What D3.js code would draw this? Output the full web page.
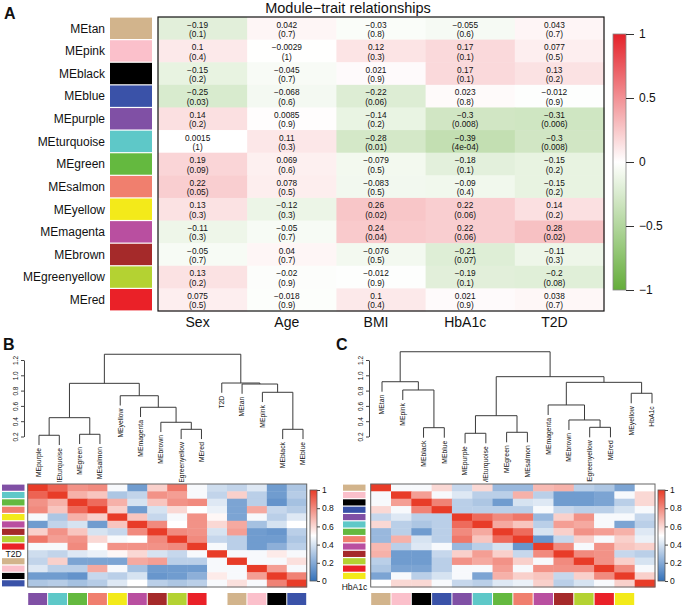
<!DOCTYPE html>
<html>
<head>
<meta charset="utf-8">
<script src="https://d3js.org/d3.v7.min.js"></script>
<style>
html,body{margin:0;padding:0;background:#fff;}
svg{display:block;}
text{font-family:"Liberation Sans",Arial,Helvetica,sans-serif;fill:#111;}
</style>
</head>
<body>
<svg id="chart" width="683" height="607"></svg>
<script>
// ---------------- Panel A data ----------------
const modulesA = ["MEtan","MEpink","MEblack","MEblue","MEpurple","MEturquoise","MEgreen","MEsalmon","MEyellow","MEmagenta","MEbrown","MEgreenyellow","MEred"];
const traits = ["Sex","Age","BMI","HbA1c","T2D"];
const corSex   = [-0.19, 0.1, -0.15, -0.25, 0.14, 0.0015, 0.19, 0.22, 0.13, -0.11, -0.05, 0.13, 0.075];
const corAge   = [0.042, -0.0029, -0.045, -0.068, 0.0085, 0.11, 0.069, 0.078, -0.12, -0.05, 0.04, -0.02, -0.018];
const corBMI   = [-0.03, 0.12, 0.021, -0.22, -0.14, -0.28, -0.079, -0.083, 0.26, 0.24, -0.076, -0.012, 0.1];
const corHbA1c = [-0.055, 0.17, 0.17, 0.023, -0.3, -0.39, -0.18, -0.09, 0.22, 0.22, -0.21, -0.19, 0.021];
const corT2D   = [0.043, 0.077, 0.13, -0.012, -0.31, -0.3, -0.15, -0.15, 0.14, 0.28, -0.11, -0.2, 0.038];
const pSex   = [0.1, 0.4, 0.2, 0.03, 0.2, 1, 0.09, 0.05, 0.3, 0.3, 0.7, 0.2, 0.5];
const pAge   = [0.7, 1, 0.7, 0.6, 0.9, 0.3, 0.6, 0.5, 0.3, 0.7, 0.7, 0.9, 0.9];
const pBMI   = [0.8, 0.3, 0.9, 0.06, 0.2, 0.01, 0.5, 0.5, 0.02, 0.04, 0.5, 0.9, 0.4];
const pHbA1c = [0.6, 0.1, 0.1, 0.8, 0.008, 0.0004, 0.1, 0.4, 0.06, 0.06, 0.07, 0.1, 0.9];
const pT2D   = [0.7, 0.5, 0.2, 0.9, 0.006, 0.008, 0.2, 0.2, 0.2, 0.02, 0.3, 0.08, 0.7];
const legendTicksA = [-1, -0.5, 0, 0.5, 1];

const moduleColors = {
  MEtan:"#d2b48c", MEpink:"#fbc0cb", MEblack:"#000000", MEblue:"#3a52a8",
  MEpurple:"#8050a5", MEturquoise:"#5ec8c8", MEgreen:"#64b93f", MEsalmon:"#f07f6e",
  MEyellow:"#f3ea1a", MEmagenta:"#b94fa0", MEbrown:"#a52a2a", MEgreenyellow:"#b4d232",
  MEred:"#ea2128"
};

// ---------------- Panel B data ----------------
const leavesB = ["MEpurple","MEturquoise","MEgreen","MEsalmon","MEyellow","MEmagenta","MEbrown","MEgreenyellow","MEred","T2D","MEtan","MEpink","MEblack","MEblue"];
const mergesB = [
  ["MEpurple","MEturquoise",0.216],
  ["MEgreen","MEsalmon",0.229],
  ["n1","n2",0.446],
  ["MEgreenyellow","MEred",0.294],
  ["MEbrown","n4",0.386],
  ["MEmagenta","n5",0.582],
  ["MEyellow","n6",0.733],
  ["n3","n7",0.895],
  ["MEblack","MEblue",0.294],
  ["MEpink","n9",0.778],
  ["MEtan","n10",0.886],
  ["T2D","n11",0.899],
  ["n8","n12",1.275]
];
const adjB = [
  [1.00,0.90,0.78,0.80,0.48,0.15,0.62,0.85,0.48,0.38,0.35,0.42,0.15,0.30],
  [0.90,1.00,0.70,0.65,0.30,0.35,0.78,0.75,0.48,0.35,0.62,0.33,0.15,0.32],
  [0.78,0.70,1.00,0.88,0.70,0.40,0.65,0.78,0.80,0.42,0.18,0.33,0.12,0.28],
  [0.80,0.65,0.88,1.00,0.62,0.15,0.40,0.60,0.50,0.45,0.18,0.72,0.36,0.32],
  [0.48,0.30,0.70,0.62,1.00,0.65,0.36,0.48,0.78,0.52,0.18,0.48,0.33,0.42],
  [0.15,0.35,0.40,0.15,0.65,1.00,0.80,0.50,0.78,0.60,0.72,0.28,0.40,0.50],
  [0.62,0.78,0.65,0.40,0.36,0.80,1.00,0.80,0.78,0.40,0.75,0.15,0.13,0.33],
  [0.85,0.75,0.78,0.60,0.48,0.50,0.80,1.00,0.80,0.36,0.33,0.15,0.15,0.30],
  [0.48,0.48,0.80,0.50,0.78,0.78,0.78,0.80,1.00,0.48,0.33,0.15,0.22,0.33],
  [0.38,0.35,0.42,0.45,0.52,0.60,0.40,0.36,0.48,1.00,0.48,0.48,0.55,0.48],
  [0.35,0.62,0.18,0.18,0.18,0.72,0.75,0.33,0.33,0.48,1.00,0.48,0.48,0.58],
  [0.42,0.33,0.33,0.72,0.48,0.28,0.15,0.15,0.15,0.48,0.48,1.00,0.75,0.48],
  [0.15,0.15,0.12,0.36,0.33,0.40,0.13,0.15,0.22,0.55,0.48,0.75,1.00,0.82],
  [0.30,0.32,0.28,0.32,0.42,0.50,0.33,0.30,0.33,0.48,0.58,0.48,0.82,1.00]
];

// ---------------- Panel C data ----------------
const leavesC = ["MEtan","MEpink","MEblack","MEblue","MEpurple","MEturquoise","MEgreen","MEsalmon","MEmagenta","MEbrown","MEgreenyellow","MEred","MEyellow","HbA1c"];
const mergesC = [
  ["MEblack","MEblue",0.315],
  ["MEpink","n1",0.808],
  ["MEtan","n2",0.916],
  ["MEpurple","MEturquoise",0.242],
  ["MEgreen","MEsalmon",0.255],
  ["n4","n5",0.472],
  ["MEgreenyellow","MEred",0.32],
  ["MEbrown","n7",0.416],
  ["MEmagenta","n8",0.612],
  ["MEyellow","HbA1c",0.765],
  ["n9","n10",0.908],
  ["n6","n11",0.982],
  ["n3","n12",1.308]
];
const adjC = [
  [1.00,0.48,0.48,0.60,0.36,0.60,0.25,0.25,0.68,0.70,0.33,0.30,0.18,0.50],
  [0.48,1.00,0.75,0.48,0.42,0.33,0.33,0.70,0.33,0.15,0.15,0.18,0.48,0.60],
  [0.48,0.75,1.00,0.82,0.33,0.30,0.15,0.40,0.42,0.15,0.15,0.18,0.33,0.60],
  [0.60,0.48,0.82,1.00,0.33,0.33,0.33,0.33,0.48,0.36,0.33,0.33,0.40,0.48],
  [0.36,0.42,0.33,0.33,1.00,0.88,0.80,0.85,0.25,0.62,0.78,0.48,0.48,0.36],
  [0.60,0.33,0.30,0.33,0.88,1.00,0.72,0.65,0.33,0.75,0.72,0.48,0.18,0.33],
  [0.25,0.33,0.15,0.33,0.80,0.72,1.00,0.88,0.40,0.62,0.78,0.75,0.70,0.42],
  [0.25,0.70,0.40,0.33,0.85,0.65,0.88,1.00,0.13,0.36,0.62,0.48,0.62,0.45],
  [0.68,0.33,0.42,0.48,0.25,0.33,0.40,0.13,1.00,0.80,0.48,0.78,0.65,0.62],
  [0.70,0.15,0.15,0.36,0.62,0.75,0.62,0.36,0.80,1.00,0.80,0.78,0.36,0.33],
  [0.33,0.15,0.15,0.33,0.78,0.72,0.78,0.62,0.48,0.80,1.00,0.78,0.62,0.40],
  [0.30,0.18,0.18,0.33,0.48,0.48,0.75,0.48,0.78,0.78,0.78,1.00,0.80,0.48],
  [0.18,0.48,0.33,0.40,0.48,0.18,0.70,0.62,0.65,0.36,0.62,0.80,1.00,0.62],
  [0.50,0.60,0.60,0.48,0.36,0.33,0.42,0.45,0.62,0.33,0.40,0.48,0.62,1.00]
];
const dendroTicks = [0.2, 0.4, 0.6, 0.8, 1.0, 1.2];
const adjTicks = [0, 0.2, 0.4, 0.6, 0.8, 1];

// =====================================================
const svg = d3.select("#chart");
const minus = s => s.replace("-", "\u2212");
const fmtCor = v => minus(String(v));
const fmtP = p => {
  if (p < 0.001) {
    const e = Math.floor(Math.log10(p));
    const m = Math.round(p / Math.pow(10, e));
    return "(" + m + "e-" + String(-e).padStart(2, "0") + ")";
  }
  return "(" + String(p) + ")";
};

// ---------------- Panel A ----------------
const corByTrait = {Sex:corSex, Age:corAge, BMI:corBMI, HbA1c:corHbA1c, T2D:corT2D};
const pByTrait = {Sex:pSex, Age:pAge, BMI:pBMI, HbA1c:pHbA1c, T2D:pT2D};
const boxA = {x0:158, x1:604, y0:17, y1:311};
const xA = d3.scaleBand().domain(traits).range([boxA.x0, boxA.x1]);
const yA = d3.scaleBand().domain(modulesA).range([boxA.y0, boxA.y1]);
const colA = d3.scaleLinear().domain([-1, 0, 1]).range(["#64ad3a", "#ffffff", "#e4222a"]);

svg.append("text").attr("x", 4).attr("y", 19).style("font-size", "16px").style("font-weight", "bold").text("A");
svg.append("text").attr("x", 348).attr("y", 13).attr("text-anchor", "middle").style("font-size", "14.5px").text("Module\u2212trait relationships");

const gA = svg.append("g");
const cellsA = [];
modulesA.forEach((m, i) => traits.forEach(t => cellsA.push({m, t, r: corByTrait[t][i], p: pByTrait[t][i]})));
gA.selectAll("rect.cell").data(cellsA).join("rect").attr("class", "cell")
  .attr("x", d => xA(d.t)).attr("y", d => yA(d.m))
  .attr("width", xA.bandwidth() + 0.5).attr("height", yA.bandwidth() + 0.5)
  .attr("fill", d => colA(d.r));
const tA = gA.selectAll("g.ct").data(cellsA).join("g").attr("class", "ct");
tA.append("text").attr("x", d => xA(d.t) + xA.bandwidth() / 2 - 5).attr("y", d => yA(d.m) + yA.bandwidth() / 2 - 0.8)
  .attr("text-anchor", "middle").style("font-size", "8.3px").text(d => fmtCor(d.r));
tA.append("text").attr("x", d => xA(d.t) + xA.bandwidth() / 2 - 5).attr("y", d => yA(d.m) + yA.bandwidth() / 2 + 8.6)
  .attr("text-anchor", "middle").style("font-size", "8.3px").text(d => fmtP(d.p));
gA.append("rect").attr("x", boxA.x0).attr("y", boxA.y0).attr("width", boxA.x1 - boxA.x0).attr("height", boxA.y1 - boxA.y0)
  .attr("fill", "none").attr("stroke", "#111").attr("stroke-width", 1.2);
// module swatches + labels
gA.selectAll("rect.sw").data(modulesA).join("rect").attr("class", "sw")
  .attr("x", 110).attr("y", d => yA(d) + 0.6).attr("width", 42).attr("height", yA.bandwidth() - 1.2)
  .attr("fill", d => moduleColors[d]);
gA.selectAll("text.rl").data(modulesA).join("text").attr("class", "rl")
  .attr("x", 105).attr("y", d => yA(d) + yA.bandwidth() / 2).attr("dy", "0.36em")
  .attr("text-anchor", "end").style("font-size", "12px").text(d => d);
gA.selectAll("text.cl").data(traits).join("text").attr("class", "cl")
  .attr("x", d => xA(d) + xA.bandwidth() / 2 - 5).attr("y", 327)
  .attr("text-anchor", "middle").style("font-size", "14px").text(d => d);
// legend A
const defs = svg.append("defs");
const gradA = defs.append("linearGradient").attr("id", "gradA").attr("x1", 0).attr("y1", 1).attr("x2", 0).attr("y2", 0);
d3.range(0, 1.0001, 0.05).forEach(f => gradA.append("stop").attr("offset", f).attr("stop-color", colA(-1 + 2 * f)));
const yLegA = d3.scaleLinear().domain([-1, 1]).range([290, 34]);
svg.append("rect").attr("x", 613).attr("y", 34).attr("width", 13).attr("height", 256)
  .attr("fill", "url(#gradA)").attr("stroke", "#888").attr("stroke-width", 0.8);
const axLegA = svg.append("g").attr("transform", "translate(626,0)")
  .call(d3.axisRight(yLegA).tickValues(legendTicksA).tickSize(8).tickPadding(5).tickFormat(d => minus(String(d))));
axLegA.select(".domain").remove();
axLegA.selectAll("line").attr("stroke", "#333");
axLegA.selectAll("text").style("font-size", "12px").style("font-family", "'Liberation Sans',Arial,sans-serif").attr("fill", "#111");

// ---------------- shared heatmap colours ----------------
const colAdj = d3.scaleLinear().domain([0, 0.5, 1]).range(["#3371ba", "#ffffff", "#e83c28"]);
const gradAdj = defs.append("linearGradient").attr("id", "gradAdj").attr("x1", 0).attr("y1", 1).attr("x2", 0).attr("y2", 0);
d3.range(0, 1.0001, 0.05).forEach(f => gradAdj.append("stop").attr("offset", f).attr("stop-color", colAdj(f)));
defs.append("clipPath").attr("id", "clipDendro").append("rect").attr("x", 0).attr("y", 330).attr("width", 683).attr("height", 152);

function panel(cfg) {
  const {leaves, merges, adj, hx0, hx1, lx0, lx1, axisX, barX, panelLabel, labelX, traitName} = cfg;
  const g = svg.append("g");
  g.append("text").attr("x", labelX).attr("y", 350).style("font-size", "16px").style("font-weight", "bold").text(panelLabel);
  // dendrogram
  const yD = d3.scaleLinear().domain([0.2, 1.2]).range([436.5, 360]);
  const xD = d3.scalePoint().domain(leaves).range([lx0, lx1]);
  const maxH = d3.max(merges, d => d[2]);
  const hang = 0.1 * maxH;
  const node = {};
  leaves.forEach(l => node[l] = {x: xD(l), h: null, leaf: true, name: l});
  const segs = [];
  const leafEnds = [];
  merges.forEach((mg, i) => {
    const [a, b, h] = mg;
    [node[a], node[b]].forEach(n => {
      const bottom = n.leaf ? h - hang : n.h;
      if (n.leaf) leafEnds.push({name: n.name, x: n.x, h: bottom});
      segs.push({x1: n.x, x2: n.x, h1: h, h2: bottom});
    });
    segs.push({x1: node[a].x, x2: node[b].x, h1: h, h2: h});
    node["n" + (i + 1)] = {x: (node[a].x + node[b].x) / 2, h: h, leaf: false};
  });
  const gD = g.append("g");
  gD.selectAll("line").data(segs).join("line")
    .attr("x1", d => d.x1).attr("x2", d => d.x2).attr("y1", d => yD(d.h1)).attr("y2", d => yD(d.h2))
    .attr("stroke", "#3a3a3a").attr("stroke-width", 1);
  g.append("g").attr("clip-path", "url(#clipDendro)").selectAll("text").data(leafEnds).join("text")
    .attr("transform", d => `translate(${d.x},${yD(d.h) + 3}) rotate(-90)`)
    .attr("dy", "0.35em").attr("text-anchor", "end").style("font-size", "6.8px").text(d => d.name);
  const ax = g.append("g").attr("transform", `translate(${axisX},0)`)
    .call(d3.axisLeft(yD).tickValues(dendroTicks).tickSize(3).tickSizeOuter(0).tickFormat(d3.format(".1f")));
  ax.select(".domain").attr("stroke", "#444");
  ax.selectAll("line").attr("stroke", "#444");
  ax.selectAll("text").attr("x", null).attr("dy", null)
    .attr("text-anchor", "middle")
    .attr("transform", "translate(-6,0) rotate(-90)")
    .style("font-size", "6.5px").style("font-family", "'Liberation Sans',Arial,sans-serif").attr("fill", "#333");
  // heatmap
  const xH = d3.scaleBand().domain(leaves).range([hx0, hx1]);
  const yH = d3.scaleBand().domain(leaves).range([484, 587]);
  const cells = [];
  leaves.forEach((r, i) => leaves.forEach((c, j) => cells.push({r, c, v: adj[i][j]})));
  g.selectAll("rect.hc").data(cells).join("rect").attr("class", "hc")
    .attr("x", d => xH(d.c)).attr("y", d => yH(d.r))
    .attr("width", xH.bandwidth() + 0.4).attr("height", yH.bandwidth() + 0.4)
    .attr("fill", d => colAdj(d.v));
  g.append("rect").attr("x", hx0).attr("y", 484).attr("width", hx1 - hx0).attr("height", 103)
    .attr("fill", "none").attr("stroke", "#666").attr("stroke-width", 1);
  // row swatches
  const rowSwX = cfg.rowSwX;
  g.selectAll("rect.rs").data(leaves.filter(l => moduleColors[l])).join("rect").attr("class", "rs")
    .attr("x", rowSwX).attr("y", d => yH(d) + 0.6).attr("width", 22.5).attr("height", yH.bandwidth() - 1.2)
    .attr("fill", d => moduleColors[d]);
  g.append("text").attr("x", rowSwX + 11.5).attr("y", yH(traitName) + yH.bandwidth() / 2 + cfg.traitDy)
    .attr("dy", "0.35em").attr("text-anchor", "middle").style("font-size", "8.5px").text(traitName);
  // column swatches
  g.selectAll("rect.cs").data(leaves.filter(l => moduleColors[l])).join("rect").attr("class", "cs")
    .attr("x", d => xH(d) + 0.5).attr("y", 593).attr("width", xH.bandwidth() - 1).attr("height", 12)
    .attr("fill", d => moduleColors[d]);
  // colour bar
  const yBar = d3.scaleLinear().domain([0, 1]).range([581, 490]);
  g.append("rect").attr("x", barX).attr("y", 490).attr("width", 7).attr("height", 91)
    .attr("fill", "url(#gradAdj)").attr("stroke", "#555").attr("stroke-width", 0.8);
  const axb = g.append("g").attr("transform", `translate(${barX + 7},0)`)
    .call(d3.axisRight(yBar).tickValues(adjTicks).tickSize(3).tickPadding(2).tickFormat(d => String(d)));
  axb.select(".domain").remove();
  axb.selectAll("line").attr("stroke", "#444");
  axb.selectAll("text").style("font-size", "8.5px").style("font-family", "'Liberation Sans',Arial,sans-serif").attr("fill", "#222");
}

panel({leaves: leavesB, merges: mergesB, adj: adjB, hx0: 27.7, hx1: 306.7, lx0: 39, lx1: 303,
  axisX: 24, barX: 310, panelLabel: "B", labelX: 3, traitName: "T2D", rowSwX: 2, traitDy: 0});
panel({leaves: leavesC, merges: mergesC, adj: adjC, hx0: 370.7, hx1: 655, lx0: 382, lx1: 652,
  axisX: 369, barX: 658, panelLabel: "C", labelX: 336, traitName: "HbA1c", rowSwX: 343, traitDy: 3.5});
</script>
</body>
</html>
